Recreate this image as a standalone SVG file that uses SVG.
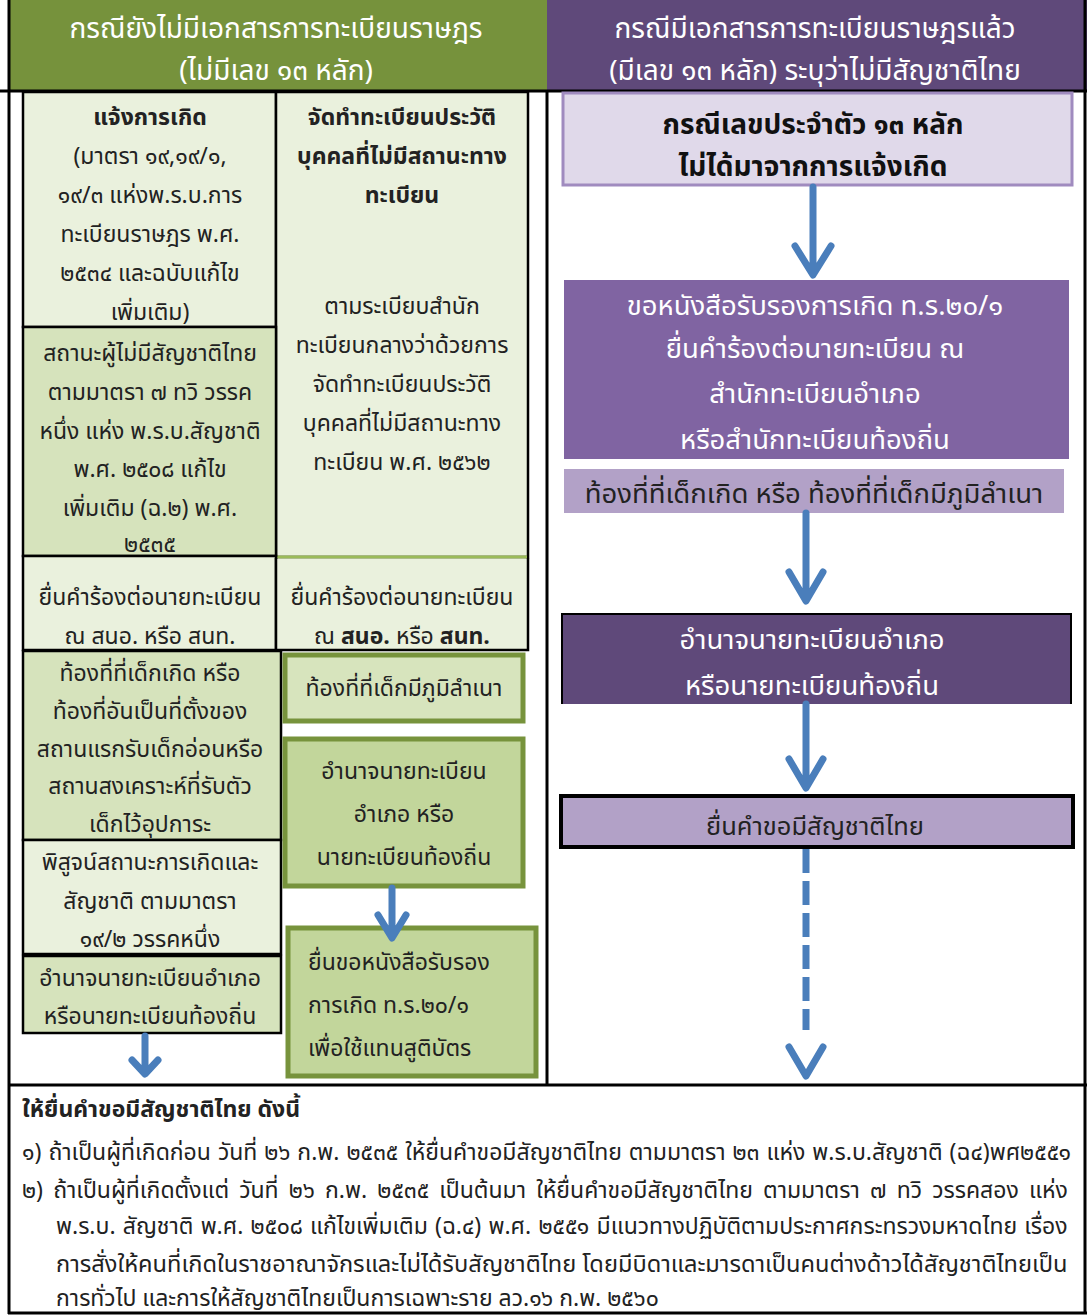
<svg xmlns="http://www.w3.org/2000/svg" width="1087" height="1315" viewBox="0 0 1087 1315">
<style>
text{font-family:'Noto Sans Thai','Noto Sans','DejaVu Sans',sans-serif;font-size:23px;fill:#222;text-anchor:middle}
.hd{fill:#fff;font-size:28px}
.b{font-weight:bold}
.w{fill:#fff}
.l{text-anchor:start}
.r{font-size:27.5px}
.r1{font-size:28px;font-weight:bold;fill:#111}
.r5{font-size:25.5px}
.cellb{stroke:#000;stroke-width:2.5}
.gbox{stroke:#77933C;stroke-width:5}
.arr{stroke:#4A7EBB;stroke-width:7;fill:none;stroke-linecap:round;stroke-linejoin:round}
</style>
<rect width="1087" height="1315" fill="#fff"/>
<g id="header-left">
<rect x="8" y="0" width="539" height="91" fill="#76923C"/>
<text class="hd" x="276" y="38">กรณียังไม่มีเอกสารการทะเบียนราษฎร</text>
<text class="hd" x="276" y="80">(ไม่มีเลข ๑๓ หลัก)</text>
</g>
<g id="header-right">
<rect x="547" y="0" width="540" height="91" fill="#5F497A"/>
<text class="hd" x="815" y="38">กรณีมีเอกสารการทะเบียนราษฎรแล้ว</text>
<text class="hd" x="815" y="80">(มีเลข ๑๓ หลัก) ระบุว่าไม่มีสัญชาติไทย</text>
</g>
<g id="frame" fill="none" stroke="#000">
<line x1="0" y1="91" x2="1087" y2="91" stroke-width="3"/>
<line x1="9" y1="0" x2="9" y2="1314" stroke-width="3"/>
<line x1="1085" y1="0" x2="1085" y2="1314" stroke-width="3"/>
<line x1="547" y1="91" x2="547" y2="1085" stroke-width="3"/>
<line x1="8" y1="1085" x2="1087" y2="1085" stroke-width="3"/>
<line x1="8" y1="1313" x2="1087" y2="1313" stroke-width="3"/>
</g>
<g id="cell-birth">
<rect class="cellb" x="23" y="92" width="253" height="235" fill="#EAF1DD"/>
<text class="b" x="150" y="125">แจ้งการเกิด</text>
<text x="150" y="164">(มาตรา ๑๙,๑๙/๑,</text>
<text x="150" y="203">๑๙/๓ แห่งพ.ร.บ.การ</text>
<text x="150" y="242">ทะเบียนราษฎร พ.ศ.</text>
<text x="150" y="281">๒๕๓๔ และฉบับแก้ไข</text>
<text x="150" y="320">เพิ่มเติม)</text>
</g>
<g id="cell-register">
<rect x="276" y="92" width="252" height="465" fill="#EAF1DD" stroke="#000" stroke-width="2.5"/>
<line x1="277" y1="557" x2="527" y2="557" stroke="#9BBB59" stroke-width="3"/>
<text class="b" x="402" y="125">จัดทำทะเบียนประวัติ</text>
<text class="b" x="402" y="164">บุคคลที่ไม่มีสถานะทาง</text>
<text class="b" x="402" y="203">ทะเบียน</text>
<text x="402" y="314">ตามระเบียบสำนัก</text>
<text x="402" y="353">ทะเบียนกลางว่าด้วยการ</text>
<text x="402" y="392">จัดทำทะเบียนประวัติ</text>
<text x="402" y="431">บุคคลที่ไม่มีสถานะทาง</text>
<text x="402" y="470">ทะเบียน พ.ศ. ๒๕๖๒</text>
</g>
<g id="cell-status">
<rect class="cellb" x="23" y="327" width="253" height="229" fill="#D6E3BC"/>
<text x="150" y="361">สถานะผู้ไม่มีสัญชาติไทย</text>
<text x="150" y="400">ตามมาตรา ๗ ทวิ วรรค</text>
<text x="150" y="439">หนึ่ง แห่ง พ.ร.บ.สัญชาติ</text>
<text x="150" y="477">พ.ศ. ๒๕๐๘ แก้ไข</text>
<text x="150" y="516">เพิ่มเติม (ฉ.๒) พ.ศ.</text>
<text x="150" y="552">๒๕๓๕</text>
</g>
<g id="cell-petition-a">
<rect class="cellb" x="23" y="556" width="253" height="94" fill="#EAF1DD"/>
<text x="150" y="605">ยื่นคำร้องต่อนายทะเบียน</text>
<text x="150" y="644">ณ สนอ. หรือ สนท.</text>
</g>
<g id="cell-petition-b">
<rect x="276" y="559" width="252" height="91" fill="#EAF1DD"/>
<path d="M276 558V650H528V558" fill="none" stroke="#000" stroke-width="2.5"/>
<text x="402" y="605">ยื่นคำร้องต่อนายทะเบียน</text>
<text x="402" y="644">ณ <tspan class="b">สนอ.</tspan> หรือ <tspan class="b">สนท.</tspan></text>
</g>
<g id="cell-locality-a">
<rect class="cellb" x="23" y="651" width="258" height="189" fill="#D6E3BC"/>
<text x="150" y="681">ท้องที่ที่เด็กเกิด หรือ</text>
<text x="150" y="719">ท้องที่อันเป็นที่ตั้งของ</text>
<text x="150" y="757">สถานแรกรับเด็กอ่อนหรือ</text>
<text x="150" y="794">สถานสงเคราะห์ที่รับตัว</text>
<text x="150" y="832">เด็กไว้อุปการะ</text>
</g>
<g id="cell-prove">
<rect class="cellb" x="23" y="840" width="258" height="114" fill="#EAF1DD"/>
<text x="150" y="870">พิสูจน์สถานะการเกิดและ</text>
<text x="150" y="909">สัญชาติ ตามมาตรา</text>
<text x="150" y="947">๑๙/๒ วรรคหนึ่ง</text>
</g>
<g id="cell-authority-a">
<rect class="cellb" x="23" y="956" width="258" height="77" fill="#D6E3BC"/>
<text x="150" y="986">อำนาจนายทะเบียนอำเภอ</text>
<text x="150" y="1024">หรือนายทะเบียนท้องถิ่น</text>
</g>
<g id="box-domicile">
<rect class="gbox" x="285" y="655" width="238" height="66" fill="#D7E4BD"/>
<text x="404" y="696">ท้องที่ที่เด็กมีภูมิลำเนา</text>
</g>
<g id="box-authority-b">
<rect class="gbox" x="285" y="739" width="238" height="147" fill="#C2D69B"/>
<text x="404" y="779">อำนาจนายทะเบียน</text>
<text x="404" y="822">อำเภอ หรือ</text>
<text x="404" y="865">นายทะเบียนท้องถิ่น</text>
</g>
<g id="box-certificate">
<rect class="gbox" x="288" y="928" width="248" height="148" fill="#C2D69B"/>
<text class="l" x="308" y="970">ยื่นขอหนังสือรับรอง</text>
<text class="l" x="308" y="1013">การเกิด ท.ร.๒๐/๑</text>
<text class="l" x="308" y="1056">เพื่อใช้แทนสูติบัตร</text>
</g>
<g id="box-r1">
<rect x="563" y="93" width="509" height="92" fill="#E0D9EA" stroke="#A08BBF" stroke-width="3"/>
<text class="r1" x="813" y="134">กรณีเลขประจำตัว ๑๓ หลัก</text>
<text class="r1" x="813" y="176">ไม่ได้มาจากการแจ้งเกิด</text>
</g>
<g id="box-r2">
<rect x="564" y="280" width="505" height="179" fill="#8064A2"/>
<text class="w r" x="815" y="315">ขอหนังสือรับรองการเกิด ท.ร.๒๐/๑</text>
<text class="w r" x="815" y="358">ยื่นคำร้องต่อนายทะเบียน ณ</text>
<text class="w r" x="815" y="403">สำนักทะเบียนอำเภอ</text>
<text class="w r" x="815" y="449">หรือสำนักทะเบียนท้องถิ่น</text>
</g>
<g id="box-r3">
<rect x="564" y="469" width="500" height="44" fill="#B2A1C7"/>
<text class="r" x="814" y="503">ท้องที่ที่เด็กเกิด หรือ ท้องที่ที่เด็กมีภูมิลำเนา</text>
</g>
<g id="box-r4">
<rect x="562" y="614" width="509" height="90" fill="#5F497A"/>
<path d="M562 704V614H1071V704" fill="none" stroke="#000" stroke-width="2"/>
<text class="w r" x="812" y="649">อำนาจนายทะเบียนอำเภอ</text>
<text class="w r" x="812" y="695">หรือนายทะเบียนท้องถิ่น</text>
</g>
<g id="box-r5">
<rect x="561" y="796" width="512" height="51" fill="#B2A1C7" stroke="#000" stroke-width="4"/>
<text class="r5" x="815" y="835">ยื่นคำขอมีสัญชาติไทย</text>
</g>
<g id="connectors" class="arr">
<path d="M813 187V272M795 246L813 275L831 246"/>
<path d="M806 513V600M789 572L806 601L823 572"/>
<path d="M806 704V786M789 759L806 788L823 759"/>
<path d="M806 849V1030" stroke-dasharray="24 8" stroke-linecap="butt"/>
<path d="M789 1047L806 1076L823 1047"/>
<path d="M392 888V936M378 915L392 938L406 915"/>
<path d="M145 1036V1072M132 1060L145 1074L158 1060"/>
</g>
<g id="notes">
<text class="b l" x="22" y="1117">ให้ยื่นคำขอมีสัญชาติไทย ดังนี้</text>
<text class="l" x="22" y="1160" word-spacing="1">๑) ถ้าเป็นผู้ที่เกิดก่อน วันที่ ๒๖ ก.พ. ๒๕๓๕ ให้ยื่นคำขอมีสัญชาติไทย ตามมาตรา ๒๓ แห่ง พ.ร.บ.สัญชาติ (ฉ๔)พศ๒๕๕๑</text>
<text class="l" x="22" y="1198" word-spacing="4.2">๒) ถ้าเป็นผู้ที่เกิดตั้งแต่ วันที่ ๒๖ ก.พ. ๒๕๓๕ เป็นต้นมา ให้ยื่นคำขอมีสัญชาติไทย ตามมาตรา ๗ ทวิ วรรคสอง แห่ง</text>
<text class="l" x="56" y="1234" word-spacing="1.2">พ.ร.บ. สัญชาติ พ.ศ. ๒๕๐๘ แก้ไขเพิ่มเติม (ฉ.๔) พ.ศ. ๒๕๕๑ มีแนวทางปฏิบัติตามประกาศกระทรวงมหาดไทย เรื่อง</text>
<text class="l" x="56" y="1272" style="font-size:23.6px">การสั่งให้คนที่เกิดในราชอาณาจักรและไม่ได้รับสัญชาติไทย โดยมีบิดาและมารดาเป็นคนต่างด้าวได้สัญชาติไทยเป็น</text>
<text class="l" x="56" y="1306">การทั่วไป และการให้สัญชาติไทยเป็นการเฉพาะราย ลว.๑๖ ก.พ. ๒๕๖๐</text>
</g>
</svg>
